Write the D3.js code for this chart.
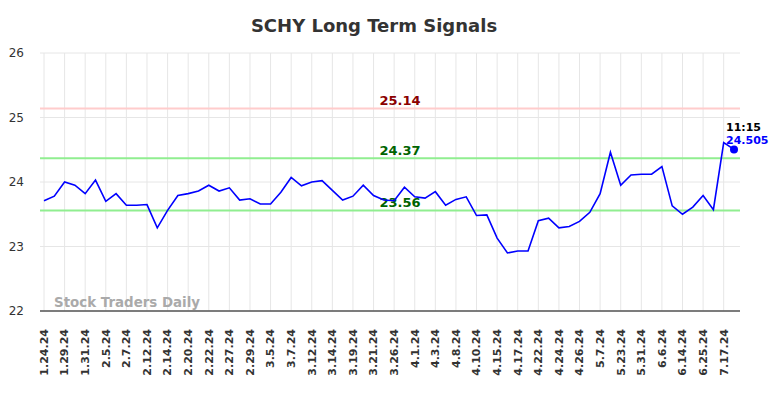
<!DOCTYPE html>
<html>
<head>
<meta charset="utf-8">
<script src="https://cdn.jsdelivr.net/npm/d3@7"></script>
<style>
  body { margin: 0; background: #fff; }
  svg { display: block; font-family: "DejaVu Sans", sans-serif; }
</style>
</head>
<body>
<div id="chart"></div>
<script>
// tick labels, one for every second point
const dateLabels = ["1.24.24", "1.29.24", "1.31.24", "2.5.24", "2.7.24", "2.12.24", "2.14.24",
    "2.20.24", "2.22.24", "2.27.24", "2.29.24", "3.5.24", "3.7.24", "3.12.24", "3.14.24",
    "3.19.24", "3.21.24", "3.26.24", "4.1.24", "4.3.24", "4.8.24", "4.10.24", "4.15.24",
    "4.17.24", "4.22.24", "4.24.24", "4.26.24", "5.7.24", "5.23.24", "5.31.24", "6.6.24",
    "6.14.24", "6.25.24", "7.17.24"];

const prices = [23.71, 23.78, 24.00, 23.95, 23.82, 24.03, 23.70, 23.82, 23.64, 23.64,
    23.65, 23.29, 23.56, 23.79, 23.82, 23.86, 23.95, 23.86, 23.91, 23.72,
    23.74, 23.66, 23.66, 23.84, 24.07, 23.94, 24.00, 24.02, 23.87, 23.72,
    23.78, 23.95, 23.79, 23.72, 23.71, 23.92, 23.77, 23.75, 23.85, 23.64,
    23.73, 23.77, 23.48, 23.49, 23.13, 22.90, 22.93, 22.93, 23.40, 23.44,
    23.29, 23.31, 23.39, 23.53, 23.82, 24.46, 23.95, 24.11, 24.12, 24.12,
    24.24, 23.63, 23.50, 23.61, 23.79, 23.57, 24.61, 24.505];

const signals = [
    { value: 25.14, line: "#ffcccc", text: "#8b0000" },
    { value: 24.37, line: "#90ee90", text: "#006400" },
    { value: 23.56, line: "#90ee90", text: "#006400" }
];

const yTicks = [22, 23, 24, 25, 26];
const lastTime = "11:15";

const width = 784, height = 398;
const margin = { top: 53, right: 44, bottom: 87, left: 40 };

const svg = d3.select("#chart")
    .append("svg")
    .attr("width", width)
    .attr("height", height);

const x = d3.scaleLinear()
    .domain([0, prices.length - 1])
    .range([44, 734]);

const y = d3.scaleLinear()
    .domain([22, 26])
    .range([height - margin.bottom, margin.top]);

const left = margin.left, right = width - margin.right;

// grid
svg.append("g")
    .selectAll("line")
    .data(yTicks)
    .enter()
    .append("line")
    .attr("x1", left)
    .attr("x2", right)
    .attr("y1", d => y(d))
    .attr("y2", d => y(d))
    .style("stroke", "#e6e6e6")
    .style("stroke-width", "1px");

svg.append("g")
    .selectAll("line")
    .data(dateLabels)
    .enter()
    .append("line")
    .attr("x1", (d, i) => x(i * 2))
    .attr("x2", (d, i) => x(i * 2))
    .attr("y1", y(26))
    .attr("y2", y(22))
    .style("stroke", "#e6e6e6")
    .style("stroke-width", "1px");

// y labels
svg.append("g")
    .selectAll("text")
    .data(yTicks)
    .enter()
    .append("text")
    .attr("x", 24)
    .attr("y", d => y(d))
    .attr("dy", "0.35em")
    .style("text-anchor", "end")
    .style("font-size", "12px")
    .style("fill", "#333")
    .text(d => d);

// x axis line
svg.append("line")
    .attr("x1", left)
    .attr("x2", right)
    .attr("y1", y(22))
    .attr("y2", y(22))
    .style("stroke", "#555")
    .style("stroke-width", "1.3px");

// x labels
svg.append("g")
    .selectAll("text")
    .data(dateLabels)
    .enter()
    .append("text")
    .attr("transform", (d, i) => `translate(${x(i * 2)},${y(22) + 18}) rotate(-90)`)
    .attr("dy", "0.35em")
    .style("text-anchor", "end")
    .style("font-size", "11px")
    .style("font-weight", "bold")
    .style("fill", "#333")
    .text(d => d);

// signal lines
signals.forEach(s => {
    svg.append("line")
        .attr("x1", left)
        .attr("x2", right)
        .attr("y1", y(s.value))
        .attr("y2", y(s.value))
        .style("stroke", s.line)
        .style("stroke-width", "2px");
    svg.append("text")
        .attr("x", 400)
        .attr("y", y(s.value) - 3)
        .style("text-anchor", "middle")
        .style("font-size", "13px")
        .style("font-weight", "bold")
        .style("fill", s.text)
        .text(s.value.toFixed(2));
});

// watermark
svg.append("text")
    .attr("x", 54)
    .attr("y", 307)
    .style("font-size", "13.4px")
    .style("font-weight", "bold")
    .style("fill", "#aaa")
    .text("Stock Traders Daily");

// price line
const line = d3.line()
    .x((d, i) => x(i))
    .y(d => y(d));

svg.append("path")
    .datum(prices)
    .attr("d", line)
    .style("fill", "none")
    .style("stroke", "#0000ff")
    .style("stroke-width", "1.6px");

const lastIdx = prices.length - 1;
svg.append("circle")
    .attr("cx", x(lastIdx))
    .attr("cy", y(prices[lastIdx]))
    .attr("r", 4)
    .style("fill", "#0000ff");

svg.append("text")
    .attr("x", 726)
    .attr("y", 131)
    .style("font-size", "11px")
    .style("font-weight", "bold")
    .style("fill", "#000")
    .text(lastTime);

svg.append("text")
    .attr("x", 726)
    .attr("y", 144)
    .style("font-size", "11px")
    .style("font-weight", "bold")
    .style("fill", "#0000ff")
    .text(prices[lastIdx]);

// title
svg.append("text")
    .attr("x", 374)
    .attr("y", 32)
    .style("text-anchor", "middle")
    .style("font-size", "18px")
    .style("font-weight", "bold")
    .style("fill", "#333")
    .text("SCHY Long Term Signals");
</script>
</body>
</html>
